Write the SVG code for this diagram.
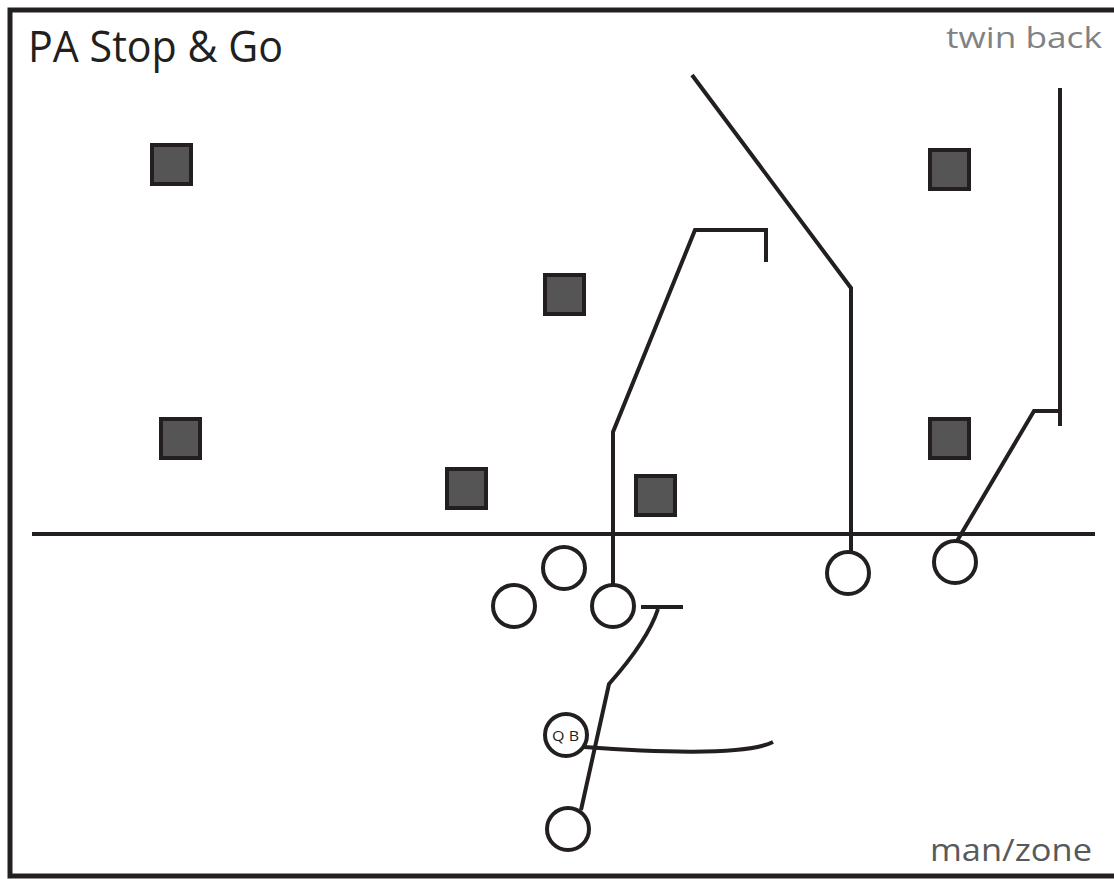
<svg xmlns="http://www.w3.org/2000/svg" width="1114" height="879" viewBox="0 0 1114 879">
<style>
.d{fill:#555;stroke:#231f20;stroke-width:4}
.o{fill:#fff;stroke:#231f20;stroke-width:4}
.r{fill:none;stroke:#231f20;stroke-width:4}
.t{font-family:"Open Sans","Liberation Sans",Arial,sans-serif}
</style>
<rect x="0" y="0" width="1114" height="879" fill="#fff"/>
<rect id="frame" x="10" y="10" width="1112" height="866" fill="none" stroke="#231f20" stroke-width="5"/>
<text class="t" x="28" y="62" font-size="43" fill="#231f20" textLength="255" lengthAdjust="spacingAndGlyphs">PA Stop &amp; Go</text>
<text class="t" x="946" y="48" font-size="29" fill="#808285" textLength="156" lengthAdjust="spacingAndGlyphs">twin back</text>
<text class="t" x="930" y="861" font-size="31" fill="#58595b" textLength="162" lengthAdjust="spacingAndGlyphs">man/zone</text>
<line id="los" x1="32" y1="534" x2="1095" y2="534" stroke="#231f20" stroke-width="4"/>
<g id="connectors">
<polyline class="r" points="613,586 613,432 695,230 766,230 766,262"/>
<polyline class="r" points="851,551 851,288 692,75"/>
<polyline class="r" points="957,541 1034,411 1058,411"/>
<path class="r" d="M1060,88 L1060,426"/>
<line class="r" x1="641" y1="607" x2="683" y2="607"/>
<path class="r" d="M658,609 Q648,640 609,684 L581,810"/>
<path class="r" d="M584,747 C650,752 745,756 773,742"/>
</g>
<g id="def1"><rect class="d" x="152" y="145" width="39" height="39"/></g>
<g id="def2"><rect class="d" x="545" y="275" width="39" height="39"/></g>
<g id="def3"><rect class="d" x="161" y="419" width="39" height="39"/></g>
<g id="def4"><rect class="d" x="447" y="469" width="39" height="39"/></g>
<g id="def5"><rect class="d" x="636" y="476" width="39" height="39"/></g>
<g id="def6"><rect class="d" x="930" y="150" width="39" height="39"/></g>
<g id="def7"><rect class="d" x="930" y="419" width="39" height="39"/></g>
<g id="off1"><circle class="o" cx="564" cy="568" r="21"/></g>
<g id="off2"><circle class="o" cx="514" cy="606" r="21"/></g>
<g id="off3"><circle class="o" cx="613" cy="606" r="21"/></g>
<g id="off4"><circle class="o" cx="848" cy="573" r="21"/></g>
<g id="off5"><circle class="o" cx="955" cy="562" r="21"/></g>
<g id="qb"><circle class="o" cx="566" cy="735" r="21"/><text class="t" x="552" y="741" font-size="15" fill="#231f20" textLength="27" lengthAdjust="spacingAndGlyphs">Q B</text></g>
<g id="off6"><circle class="o" cx="568" cy="829" r="21"/></g>
</svg>
